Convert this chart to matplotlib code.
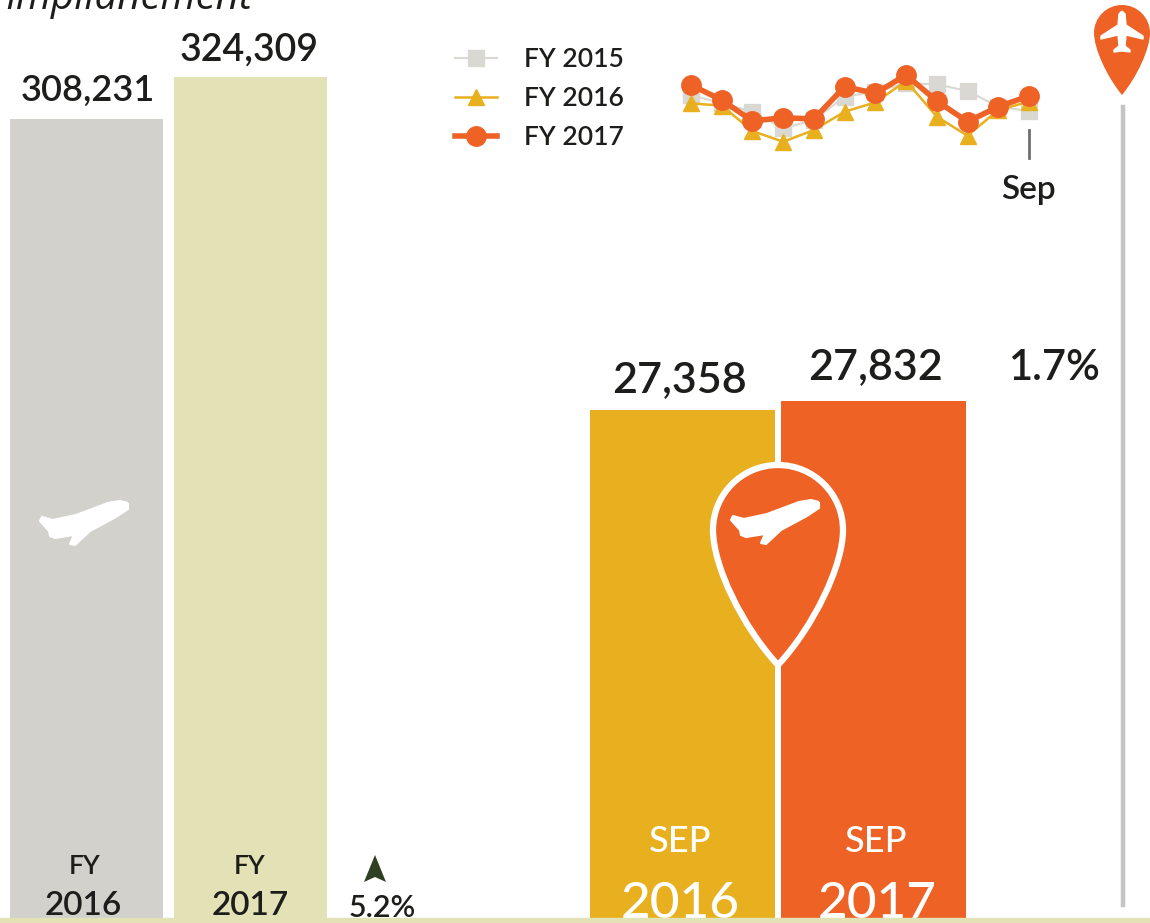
import matplotlib
matplotlib.use("Agg")
import matplotlib.pyplot as plt
from matplotlib.path import Path
from matplotlib.patches import PathPatch, Rectangle

W, H = 1150, 923

GREY = "#d2d1cc"
PALE = "#e3e1b6"
GOLD = "#e8b01f"
ORANGE = "#ee6226"
INK = "#1d1d1b"

# totals
fy_labels = ["2016", "2017"]
fy_values = [308231, 324309]
sep_labels = ["2016", "2017"]
sep_values = [27358, 27832]

# monthly (Oct..Sep)
months = list(range(12))
fy2015 = [27915, 27223, 26530, 25145, 25838, 27777, 28192, 28885, 28801, 28248, 26946, 26585]
fy2016 = [27223, 27029, 24923, 24037, 25007, 26530, 27306, 29078, 26115, 24536, 26669, 27361]
fy2017 = [28746, 27500, 25755, 26032, 25921, 28608, 28054, 29577, 27416, 25699, 26946, 27832]

plt.rcParams["font.family"] = ["Lato", "DejaVu Sans"]

fig = plt.figure(figsize=(W / 100, H / 100), dpi=100)


def px_axes(x0, y0, x1, y1):
    # axes from pixel box, y counted from the top
    ax = fig.add_axes([x0 / W, 1 - y1 / H, (x1 - x0) / W, (y1 - y0) / H])
    ax.patch.set_alpha(0)
    ax.axis("off")
    return ax


# left pair
axl = px_axes(0, 77, 340, 918)
axl.set_xlim(0, 340)
axl.set_ylim(0, fy_values[1])
axl.bar([86.5, 250.5], fy_values, width=153, color=[GREY, PALE])

# right pair
axr = px_axes(560, 401, 1000, 918)
axr.set_xlim(560, 1000)
axr.set_ylim(0, sep_values[1])
axr.bar([682.5, 873.5], sep_values, width=185, color=[GOLD, ORANGE])

# small line chart
axs = px_axes(691, 60, 1029, 150)
axs.set_xlim(0, 11)
axs.set_ylim(23350, 30820)
lg, = axs.plot(months, fy2015, color="#d9d8d3", lw=1.5, marker="s", ms=11, clip_on=False, label="FY 2015")
ly, = axs.plot(months, fy2016, color=GOLD, lw=1.8, marker="^", ms=11, clip_on=False, label="FY 2016")
lo, = axs.plot(months, fy2017, color=ORANGE, lw=4, marker="o", ms=14, clip_on=False, label="FY 2017")
leg = axs.legend(handles=[lg, ly, lo], loc="upper left", bbox_to_anchor=(-0.698, 1.14), frameon=False,
                 labelspacing=0.52, handlelength=1.6, handletextpad=1.0,
                 labelcolor=INK, borderpad=0, borderaxespad=0, prop={"size": 19, "weight": "semibold"})

# overlay in pixels for text and icons
ov = px_axes(0, 0, W, H)
ov.set_xlim(0, W)
ov.set_ylim(H, 0)


def label(x, y, s, size, color=INK, weight="semibold"):
    ov.text(x, y, s, fontsize=size, color=color, ha="center", va="center", fontweight=weight)


label(88, 90, f"{fy_values[0]:,}", 26)
label(249, 50, f"{fy_values[1]:,}", 27)
label(680, 380, f"{sep_values[0]:,}", 31)
label(875, 367, f"{sep_values[1]:,}", 31)
label(1055, 368, "1.7%", 30)
label(1028, 190, "Sep", 24)
label(85, 867, "FY", 19)
label(250, 867, "FY", 19)
label(83, 906, fy_labels[0], 24)
label(250, 906, fy_labels[1], 24)
label(382, 908, "5.2%", 22)
label(680, 842, "SEP", 26, "white", "medium")
label(876, 842, "SEP", 26, "white", "medium")
label(680, 904, sep_labels[0], 37, "white", "medium")
label(877, 904, sep_labels[1], 37, "white", "medium")
ov.text(5, -1, "Implianement", fontsize=29, style="italic", color=INK, family="Open Sans",
        ha="left", va="center", clip_on=True)

ov.plot([1029, 1029], [130, 158], color="#6f6f6f", lw=2)
ov.plot([1123, 1123], [107, 905], color="#c4c4c4", lw=3.2)
ov.add_patch(Rectangle((0, 918), W, 5, color=PALE, zorder=5))


def pin_path(cx, cy, r, tip):
    k = 0.5523 * r
    verts = [(cx, tip), (cx - 0.55 * r, tip - 0.55 * (tip - cy - r)), (cx - r, cy + 0.55 * r), (cx - r, cy),
             (cx - r, cy - k), (cx - k, cy - r), (cx, cy - r),
             (cx + k, cy - r), (cx + r, cy - k), (cx + r, cy),
             (cx + r, cy + 0.55 * r), (cx + 0.55 * r, tip - 0.55 * (tip - cy - r)), (cx, tip), (cx, tip)]
    codes = [Path.MOVETO] + [Path.CURVE4] * 12 + [Path.CLOSEPOLY]
    return Path(verts, codes)


def plane_side(x, y, s):
    # plane taking off, unit box about 92 wide
    pts = [(90, 3), (82, 1), (70, 3), (38, 15), (15, 20), (4, 17), (2, 21), (11, 31), (12, 36), (17, 38),
           (36, 35), (32, 44), (37, 45), (52, 31), (78, 17), (90, 9), (90, 3)]
    return Path([(x + px * s, y + py * s) for px, py in pts])


def plane_top(cx, cy, s):
    # plane seen from above, nose up
    pts = [(0, -21), (3, -18), (4, -7), (21, 4), (21, 7), (4, 3), (3, 14), (8, 18), (8, 20), (0, 19),
           (-8, 20), (-8, 18), (-3, 14), (-4, 3), (-21, 7), (-21, 4), (-4, -7), (-3, -18), (0, -21)]
    return Path([(cx + px * s, cy + py * s) for px, py in pts])


ov.add_patch(PathPatch(plane_side(38, 500, 1.0), fc="white", ec="white", lw=1.5, joinstyle="round"))
ov.add_patch(PathPatch(pin_path(778, 530, 65, 665), fc=ORANGE, ec="white", lw=4.5))
ov.add_patch(PathPatch(plane_side(729, 499, 1.0), fc="white", ec="white", lw=1.5, joinstyle="round"))
ov.add_patch(PathPatch(pin_path(1122, 33, 28, 95), fc=ORANGE, ec="none"))
ov.add_patch(PathPatch(plane_top(1122, 32, 1.0), fc="white", ec="white", lw=1, joinstyle="round"))

# little up arrow beside 5.2%
ov.add_patch(PathPatch(Path([(375, 855), (386, 882), (375, 877), (364, 882), (375, 855)]), fc="#2f4022", ec="none"))

fig.savefig("out.png", dpi=100, facecolor="white")
